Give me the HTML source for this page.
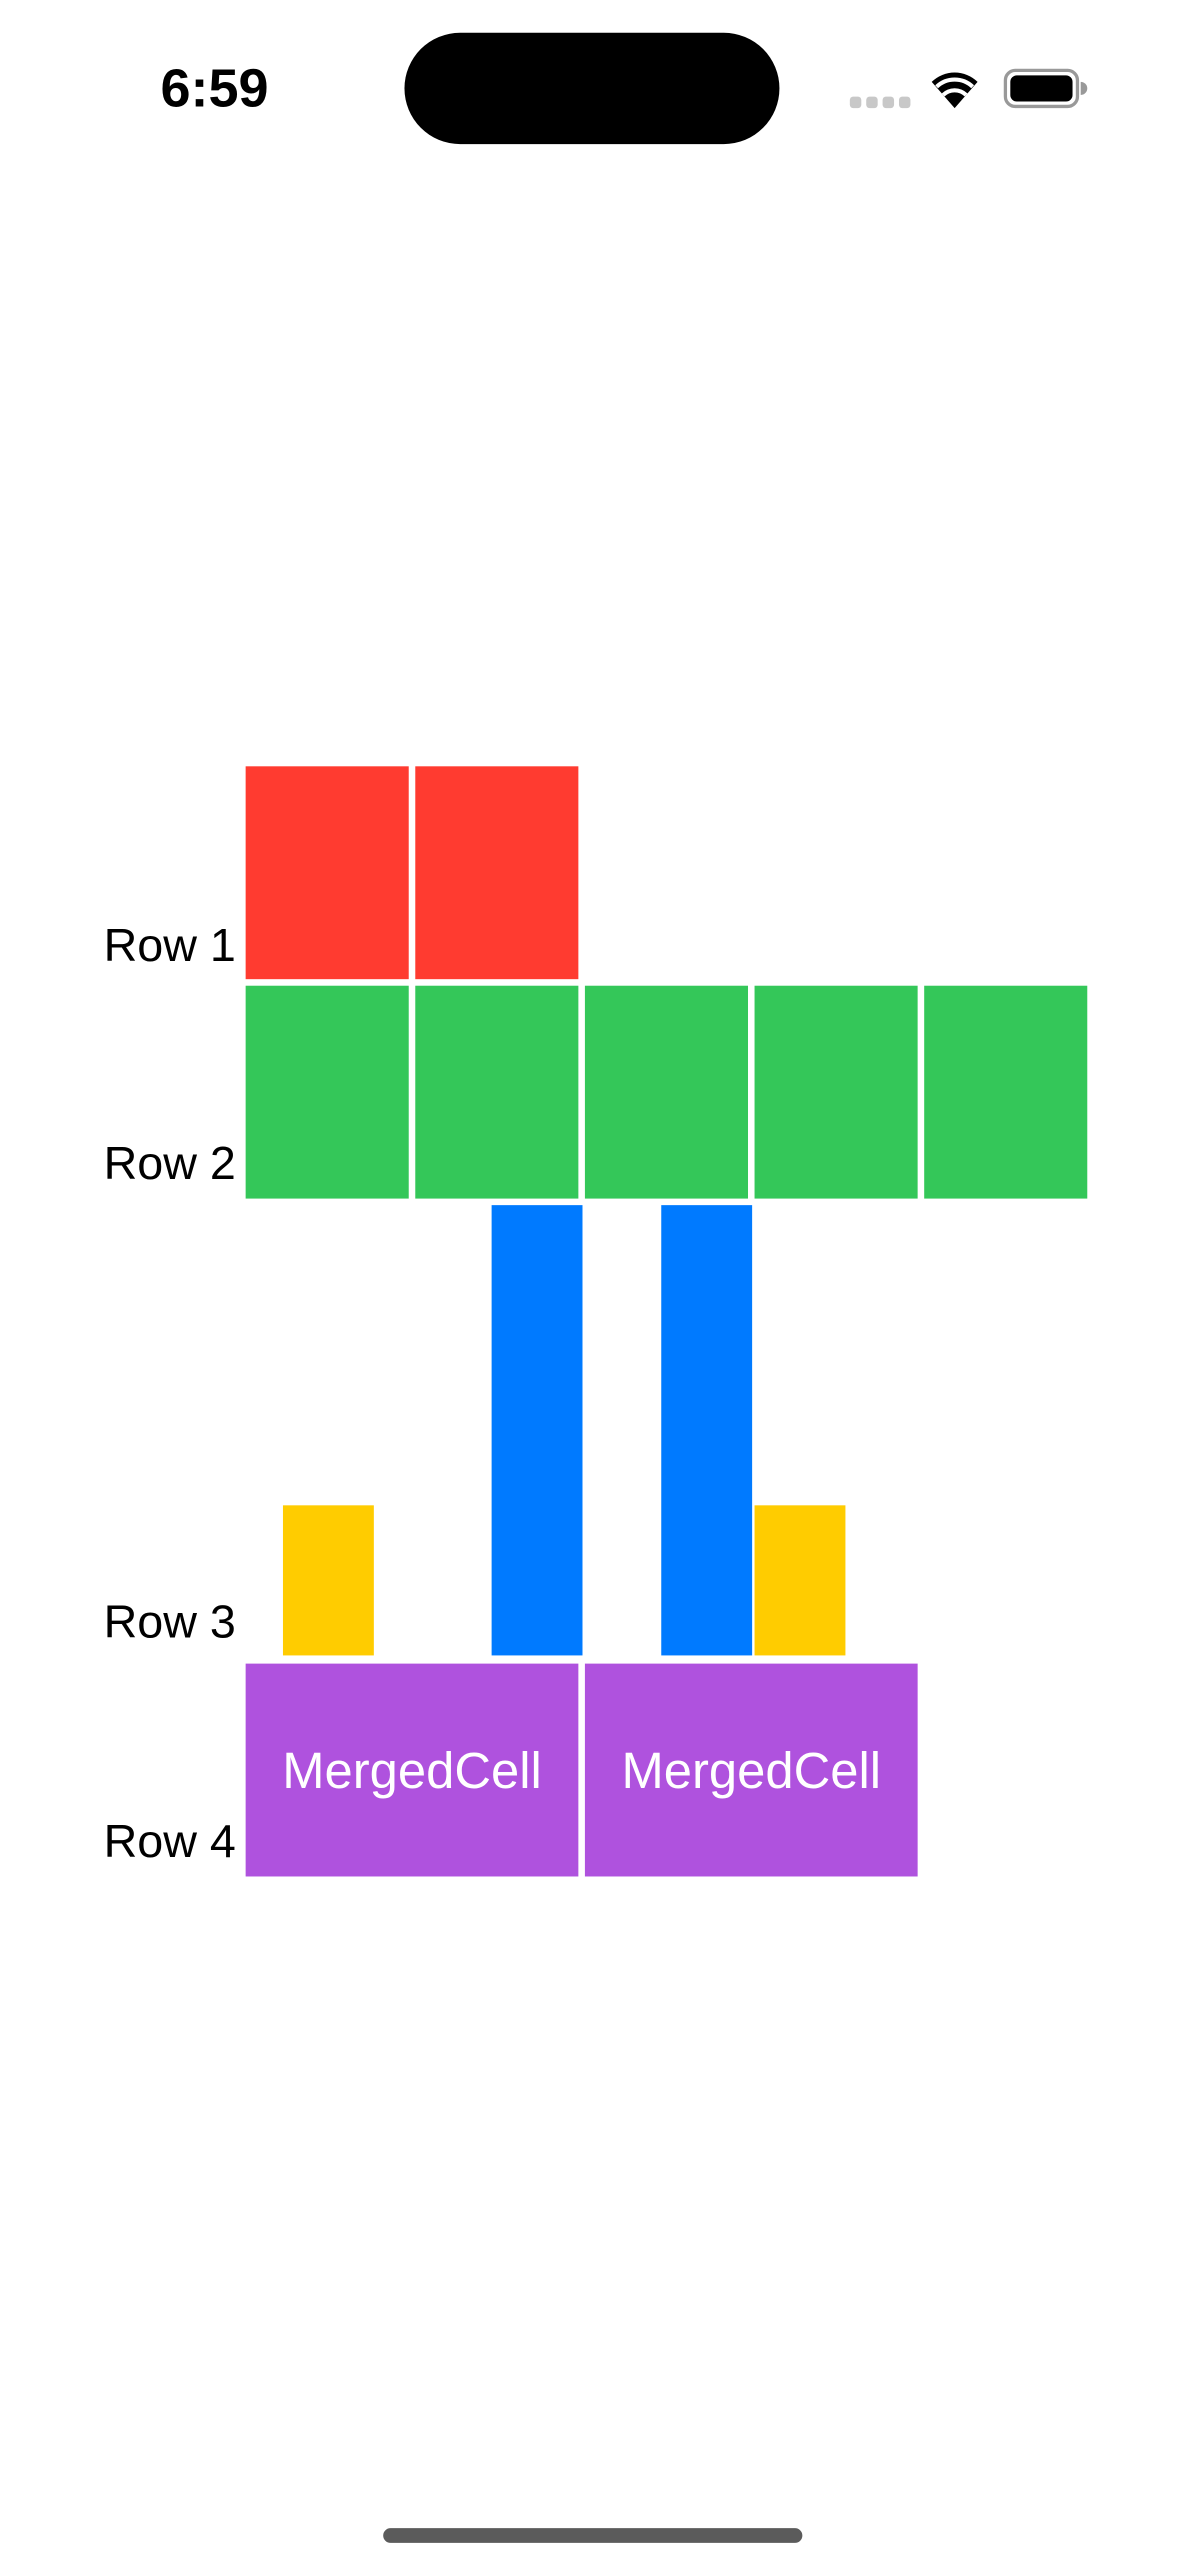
<!DOCTYPE html>
<html><head><meta charset="utf-8">
<style>
html,body{margin:0;padding:0;background:#fff;}
svg{display:block;}
text{font-family:"Liberation Sans",sans-serif;}
</style></head>
<body>
<svg id="chart" width="1179" height="2556" viewBox="0 0 720 1561" xmlns="http://www.w3.org/2000/svg">
  <rect width="720" height="1561" fill="#fff"/>
  <g>
    <text x="131" y="65" font-size="33" font-weight="bold" text-anchor="middle">6:59</text>
    <rect x="247" y="20" width="229" height="68" rx="34" fill="#000"/>
    <g fill="#c8c8c8">
      <rect x="519" y="59" width="7" height="7" rx="2"/><rect x="529" y="59" width="7" height="7" rx="2"/>
      <rect x="539" y="59" width="7" height="7" rx="2"/><rect x="549" y="59" width="7" height="7" rx="2"/>
    </g>
    <g>
      <path d="M583 66 L569 50 A20 20 0 0 1 597 50 Z" fill="#000"/>
      <path d="M572 53 A16 16 0 0 1 594 53" stroke="#fff" stroke-width="2.5" fill="none"/>
      <path d="M576 58 A10 10 0 0 1 590 58" stroke="#fff" stroke-width="2.5" fill="none"/>
    </g>
    <g>
      <rect x="614" y="43" width="44" height="22" rx="6" fill="none" stroke="#999" stroke-width="2"/>
      <rect x="617" y="46" width="38" height="16" rx="4" fill="#000"/>
      <path d="M660 50 A4 4 0 0 1 660 58 Z" fill="#999"/>
    </g>
  </g>
  <g id="cells"></g>
  <rect x="234" y="1544" width="256" height="9" rx="4.5" fill="#5b5b5b"/>
</svg>
<script>
const rowNames = ["Row 1","Row 2","Row 3","Row 4"];
const row1Cols = [0,1];
const row2Cols = [0,1,2,3,4];
const row3Cols = [0.22,1.45,2.45,3.0];
const row3Values = [1,3,3,1];
const row3Kinds = ["yellow","blue","blue","yellow"];
const row4Starts = [0,2];
const row4Labels = ["MergedCell","MergedCell"];

const svg = document.getElementById('cells');
const NS = "http://www.w3.org/2000/svg";
const x0 = 150, colW = 103.6, gap = 4;
const rowTop = [468, 602, 736, 1016];
const rowH = [130, 130, 275, 130];
const barW = 55.5;
const unitH = rowH[2] / 3;
const colors = {red:"#ff3b30", green:"#34c759", blue:"#007aff", yellow:"#ffcc00", purple:"#af52de"};
const xCol = c => x0 + c * colW;
const yVal = v => rowTop[2] + rowH[2] - v * unitH;

function rect(x,y,w,h,fill){
  const r = document.createElementNS(NS,'rect');
  r.setAttribute('x',x); r.setAttribute('y',y); r.setAttribute('width',w); r.setAttribute('height',h); r.setAttribute('fill',fill);
  svg.appendChild(r); return r;
}
function txt(x,y,s,anchor,size,fill){
  const t = document.createElementNS(NS,'text');
  t.setAttribute('x',x); t.setAttribute('y',y); t.setAttribute('text-anchor',anchor);
  t.setAttribute('font-size',size); t.setAttribute('fill',fill); t.textContent = s;
  svg.appendChild(t); return t;
}
const labelY = [587, 720, 1000, 1134];
rowNames.forEach((n,i)=>{
  const t = txt(144, labelY[i], n, "end", 28.5, "#000");
  
  
});
row1Cols.forEach(c=>{
  const r = rect(xCol(c), rowTop[0], colW-gap, rowH[0], colors.red);
  
  
});
row2Cols.forEach(c=>{
  const r = rect(xCol(c), rowTop[1], colW-gap, rowH[1], colors.green);
  
  
});
row3Cols.forEach((c,i)=>{
  const v = row3Values[i];
  const r = rect(xCol(c), yVal(v), barW, v*unitH, colors[row3Kinds[i]]);
  
  
});
row4Starts.forEach((c,i)=>{
  const r = rect(xCol(c), rowTop[3], 2*colW-gap, rowH[3], colors.purple);
  
  
  const t = txt(xCol(c) + colW - gap/2, rowTop[3]+rowH[3]/2+11, row4Labels[i], "middle", 31, "#fff");
  
  
});
</script>
</body></html>
